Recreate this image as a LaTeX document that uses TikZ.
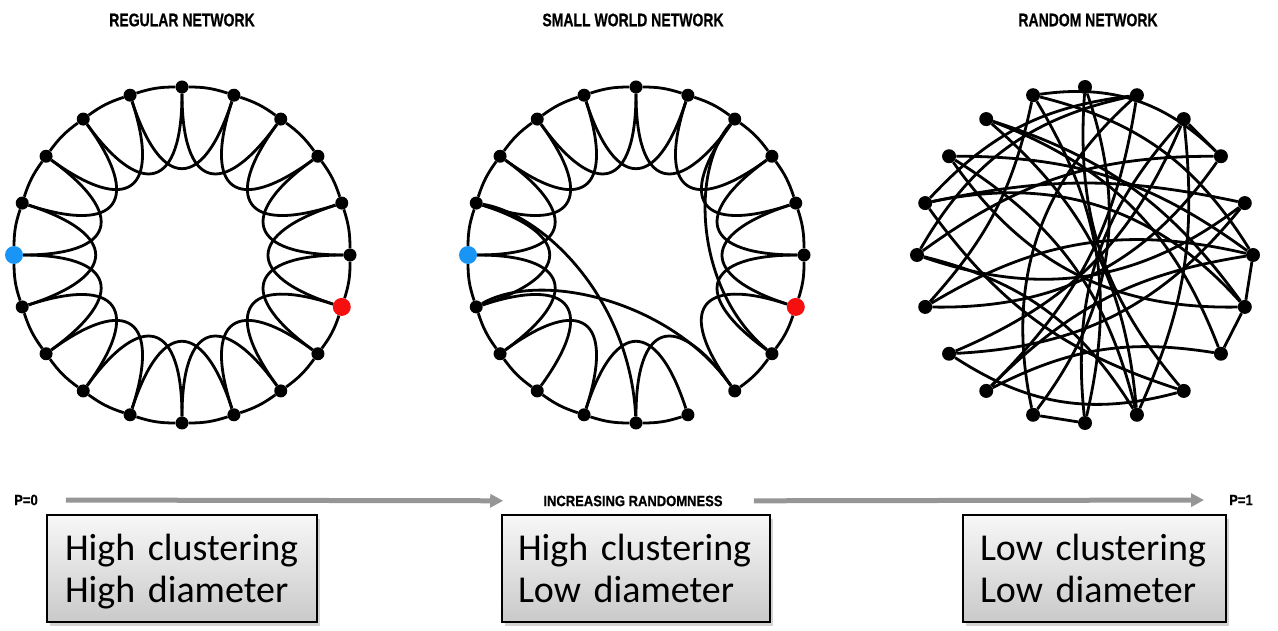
\documentclass[tikz,border=0pt]{standalone}
\usepackage{fontspec}
\usepackage{graphicx}
\newfontfamily\boxfont{Carlito}
\newfontfamily\lblfont[FakeBold=0.8]{Liberation Sans}
\usetikzlibrary{calc,arrows.meta,shadows}
\definecolor{dotblue}{RGB}{25,150,245}
\definecolor{dotred}{RGB}{245,15,15}
\definecolor{arrowgray}{RGB}{150,150,150}
\newcommand{\topstrut}{\rule{0pt}{38.5pt}}
\begin{document}
\begin{tikzpicture}[x=1pt,y=1pt,
  vtx/.style={circle,fill=black,inner sep=0pt,minimum size=13pt},
  rvtx/.style={circle,fill=black,inner sep=0pt,minimum size=14pt},
  bluevtx/.style={circle,fill=dotblue,inner sep=0pt,minimum size=18pt},
  redvtx/.style={circle,fill=dotred,inner sep=0pt,minimum size=18pt},
  edge/.style={line width=2.8pt,black},
  title/.style={inner sep=0pt,font=\lblfont\bfseries\fontsize{14}{14}\selectfont},
  lbl/.style={inner sep=0pt,font=\lblfont\bfseries\fontsize{13}{13}\selectfont},
  garrow/.style={line width=5pt,arrowgray,-{Triangle[length=13pt,width=13pt]}},
  infobox/.style={draw=black,line width=2pt,top color=gray!6,bottom color=gray!42,
    minimum height=107pt,align=left,inner ysep=0pt,
    font=\boxfont\fontsize{38}{42}\selectfont,
    drop shadow={opacity=0.35,shadow xshift=3pt,shadow yshift=-4pt}}
]
\useasboundingbox (0,0) rectangle (1278,630);

% ---------------- titles ----------------
\node[title] (t1) at (182,610) {\scalebox{1}[1.3]{REGULAR NETWORK}};
\node[title] (t2) at (633,610) {\scalebox{1}[1.3]{SMALL WORLD NETWORK}};
\node[title] (t3) at (1088,610) {\scalebox{1}[1.3]{RANDOM NETWORK}};

% ---------------- regular network ----------------
\coordinate (C1) at (182,375);
\foreach \k in {0,...,19}{
  \pgfmathsetmacro\ang{90-18*\k}
  \def\st{vtx}
  \ifnum\k=15 \def\st{bluevtx}\fi
  \ifnum\k=6 \def\st{redvtx}\fi
  \node[\st] (a\k) at ($(C1)+(\ang:168)$) {};
}
\foreach \k [evaluate=\k as \n using {int(mod(\k+1,20))}] in {0,...,19}
  \draw[edge] (a\k) to[bend left=9] (a\n);
\foreach \k [evaluate=\k as \n using {int(mod(\k+2,20))}] in {0,...,19}
  \draw[edge] (a\k) .. controls ($(C1)!0.4!(a\k)$) and ($(C1)!0.4!(a\n)$) .. (a\n);

% ---------------- small world network ----------------
\coordinate (C2) at (636,375);
\foreach \k in {0,...,19}{
  \pgfmathsetmacro\ang{90-18*\k}
  \def\st{vtx}
  \ifnum\k=15 \def\st{bluevtx}\fi
  \ifnum\k=6 \def\st{redvtx}\fi
  \node[\st] (b\k) at ($(C2)+(\ang:168)$) {};
}
\foreach \k [evaluate=\k as \n using {int(mod(\k+1,20))}] in {0,...,19}{
  \ifnum\k=8 \else \draw[edge] (b\k) to[bend left=9] (b\n);\fi
}
\foreach \k [evaluate=\k as \n using {int(mod(\k+2,20))}] in {0,...,19}{
  \ifnum\k=7 \else\ifnum\k=10 \else
  \draw[edge] (b\k) .. controls ($(C2)!0.4!(b\k)$) and ($(C2)!0.4!(b\n)$) .. (b\n);
  \fi\fi
}
\draw[edge] (b2) .. controls (690,460) and (695,340) .. (b7);
\draw[edge] (b14) .. controls (540,360) and (670,330) .. (b8);
\draw[edge] (b16) .. controls (545,415) and (630,330) .. (b10);

% ---------------- random network ----------------
\coordinate (C3) at (1085,375);
\foreach \k in {0,...,19}{
  \pgfmathsetmacro\ang{90-18*\k}
  \node[rvtx] (c\k) at ($(C3)+(\ang:168)$) {};
}
\foreach \u/\v/\b in {2/3/0, 5/6/0, 6/7/0, 10/11/0,
  0/11/28, 0/8/-22, 19/3/26, 19/5/22, 1/15/-24, 1/16/-20, 1/11/-30, 1/12/18,
  2/13/22, 18/6/18, 18/7/24, 18/9/22, 17/5/18, 17/6/-28, 17/9/22,
  16/4/12, 16/8/-18, 15/4/-28, 15/9/22, 14/3/-28, 14/5/22, 13/4/-24,
  10/19/-22, 10/2/24, 7/12/-18, 12/5/18, 13/8/-24, 16/6/30, 14/19/-15, 15/3/18, 9/2/-15}{
  \draw[edge] (c\u) to[bend left=\b] (c\v);
}

% ---------------- randomness axis ----------------
\node[lbl] (p0) at (26,130) {\scalebox{1}[1.15]{P=0}};
\node[lbl] (inc) at (633,129) {\scalebox{1}[1.15]{INCREASING RANDOMNESS}};
\node[lbl] (p1) at (1241,130) {\scalebox{1}[1.15]{P=1}};
\draw[garrow,shorten <=28pt,shorten >=40pt] (p0) -- (inc);
\draw[garrow,shorten <=31pt,shorten >=25pt] (inc) -- (p1);

% ---------------- boxes ----------------
\node[infobox,minimum width=270pt,text width=234pt,inner xsep=18pt] (box1) at (182,61.5)
  {\topstrut High clustering\\High diameter\strut};
\node[infobox,minimum width=268pt,text width=236pt,inner xsep=16pt] (box2) at (636,61.5)
  {\topstrut High clustering\\Low diameter\strut};
\node[infobox,minimum width=263pt,text width=229pt,inner xsep=17pt] (box3) at (1094.5,61.5)
  {\topstrut Low clustering\\Low diameter\strut};
\end{tikzpicture}
\end{document}
